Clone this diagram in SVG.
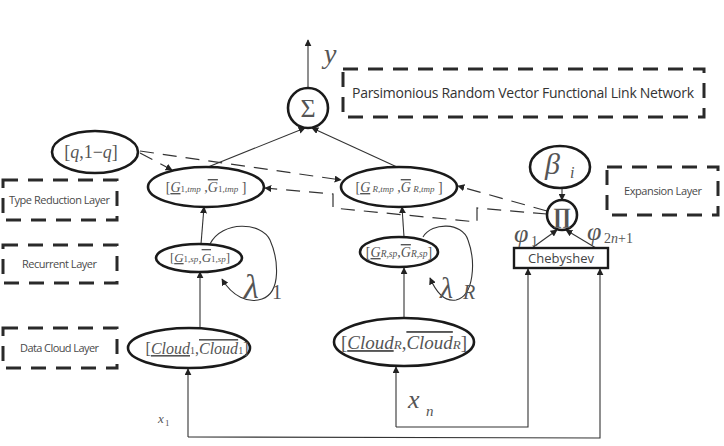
<svg xmlns="http://www.w3.org/2000/svg" width="724" height="446" viewBox="0 0 724 446">
<defs>
<marker id="ah" viewBox="0 0 10 10" refX="9" refY="5" markerWidth="7" markerHeight="7" markerUnits="userSpaceOnUse" orient="auto">
<path d="M0,0 L10,5 L0,10 z" fill="#222"/>
</marker>
</defs>
<style>
.node{fill:#fff;stroke:#1a1a1a;stroke-width:2.6}
.layer{fill:none;stroke:#2a2a2a;stroke-width:3;stroke-dasharray:15 10}
.ltxt{font-family:"Open Sans","Liberation Sans",sans-serif;font-size:11px;fill:#4a4a4a}
.m{font-family:"Liberation Serif",serif;fill:#555}
.it{font-style:italic}
.conn{fill:none;stroke:#333;stroke-width:1.1}
.dash{fill:none;stroke:#333;stroke-width:1.2;stroke-dasharray:14 9}
</style>
<rect width="724" height="446" fill="#fff"/>

<g id="connectors">
<line class="conn" x1="308" y1="88" x2="308" y2="40" marker-end="url(#ah)"/>
<line class="conn" x1="208" y1="167" x2="305" y2="128" marker-end="url(#ah)"/>
<line class="conn" x1="397" y1="167" x2="312" y2="128" marker-end="url(#ah)"/>
<line class="conn" x1="201" y1="244" x2="204" y2="207" marker-end="url(#ah)"/>
<line class="conn" x1="404" y1="237" x2="402" y2="207" marker-end="url(#ah)"/>
<line class="conn" x1="200" y1="328" x2="200" y2="272" marker-end="url(#ah)"/>
<line class="conn" x1="404" y1="318" x2="404" y2="268" marker-end="url(#ah)"/>
<path class="conn" d="M210,244 C222,220 262,222 270,240 C278,258 282,292 262,299 C248,304 232,296 222,279" marker-end="url(#ah)"/>
<path class="conn" d="M423,237 C432,222 462,222 468,240 C476,262 474,296 456,300 C444,302 436,292 430,278" marker-end="url(#ah)"/>
<line class="conn" x1="562" y1="188" x2="562" y2="200" marker-end="url(#ah)"/>
<line class="conn" x1="532" y1="248" x2="557" y2="230" marker-end="url(#ah)"/>
<line class="conn" x1="596" y1="248" x2="566" y2="230" marker-end="url(#ah)"/>
<path class="conn" d="M188,437 L188,369" marker-end="url(#ah)"/>
<path class="conn" d="M188,437 L600,438 L600,269" marker-end="url(#ah)"/>
<path class="conn" d="M396,427 L396,367" marker-end="url(#ah)"/>
<path class="conn" d="M396,427 L528,427 L528,269" marker-end="url(#ah)"/>
<line class="dash" x1="140" y1="153" x2="172" y2="170" marker-end="url(#ah)"/>
<line class="dash" x1="140" y1="151" x2="341" y2="180" marker-end="url(#ah)"/>
<line class="dash" x1="547" y1="211" x2="458" y2="186" marker-end="url(#ah)"/>
<path class="dash" d="M547,214 L477,208 L477,222 L333,208 L333,194 L265,188" marker-end="url(#ah)"/>
</g>

<g id="sum">
<circle class="node" cx="308" cy="108" r="20"/>
<text class="m" x="308" y="117" font-size="26" text-anchor="middle">Σ</text>
</g>
<g id="y-label">
<text class="m it" x="324" y="63" font-size="28" fill="#333">y</text>
</g>

<g id="prvfln">
<rect class="layer" x="343" y="69" width="361" height="48"/>
<text x="352" y="98" font-family="'Open Sans','Liberation Sans',sans-serif" font-size="14" fill="#333" textLength="342">Parsimonious Random Vector Functional Link Network</text>
</g>

<g id="q-node">
<ellipse class="node" cx="95" cy="152" rx="43" ry="21"/>
<text class="m" x="91" y="158" font-size="18" text-anchor="middle">[<tspan class="it">q</tspan>,1−<tspan class="it">q</tspan>]</text>
</g>

<g id="g1tmp">
<ellipse class="node" cx="206" cy="187" rx="58" ry="20"/>
<text class="m" x="206" y="192" font-size="14" text-anchor="middle">[<tspan class="it" text-decoration="underline">G</tspan><tspan font-size="9">1,<tspan class="it">tmp</tspan></tspan> ,<tspan class="it" text-decoration="overline">G</tspan><tspan font-size="9">1,<tspan class="it">tmp</tspan></tspan> ]</text>
</g>

<g id="grtmp">
<ellipse class="node" cx="399" cy="187" rx="58" ry="20"/>
<text class="m" x="399" y="192" font-size="14" text-anchor="middle">[<tspan class="it" text-decoration="underline">G</tspan><tspan font-size="9"> <tspan class="it">R</tspan>,<tspan class="it">tmp</tspan></tspan> ,<tspan class="it" text-decoration="overline">G</tspan><tspan font-size="9"> <tspan class="it">R</tspan>,<tspan class="it">tmp</tspan></tspan> ]</text>
</g>

<g id="g1sp">
<ellipse class="node" cx="199" cy="258" rx="43" ry="14"/>
<text class="m" x="200" y="262" font-size="13" text-anchor="middle">[<tspan class="it" text-decoration="underline">G</tspan><tspan font-size="9">1,<tspan class="it">sp</tspan></tspan>,<tspan class="it" text-decoration="overline">G</tspan><tspan font-size="9">1,<tspan class="it">sp</tspan></tspan>]</text>
</g>
<g id="lambda1">
<text class="m it" x="244" y="298" font-size="34">λ</text>
<text class="m" x="272" y="299" font-size="20">1</text>
</g>

<g id="grsp">
<ellipse class="node" cx="399" cy="252" rx="39" ry="15"/>
<text class="m" x="399" y="257" font-size="14" text-anchor="middle">[<tspan class="it" text-decoration="underline">G</tspan><tspan font-size="9.5" class="it">R,sp</tspan>,<tspan class="it" text-decoration="overline">G</tspan><tspan font-size="9.5" class="it">R,sp</tspan>]</text>
</g>
<g id="lambdaR">
<text class="m it" x="440" y="298" font-size="30">λ</text>
<text class="m it" x="463" y="299" font-size="20">R</text>
</g>

<g id="cloud1">
<ellipse class="node" cx="189" cy="348" rx="61" ry="20"/>
<text class="m" x="197" y="354" font-size="16" text-anchor="middle">[<tspan class="it" text-decoration="underline">Cloud</tspan><tspan font-size="10">1</tspan>,<tspan class="it" text-decoration="overline">Cloud</tspan><tspan font-size="10">1</tspan>]</text>
</g>

<g id="cloudR">
<ellipse class="node" cx="404" cy="342" rx="70" ry="24"/>
<text class="m" x="404" y="349" font-size="19" text-anchor="middle">[<tspan class="it" text-decoration="underline">Cloud</tspan><tspan font-size="13" class="it">R</tspan>,<tspan class="it" text-decoration="overline">Cloud</tspan><tspan font-size="13" class="it">R</tspan>]</text>
</g>

<g id="beta">
<ellipse class="node" cx="560" cy="167" rx="30" ry="21"/>
<text class="m it" x="545" y="174" font-size="30">β</text>
<text class="m it" x="570" y="178" font-size="16">i</text>
</g>

<g id="product">
<circle class="node" cx="562" cy="215" r="15"/>
<text class="m" x="562" y="223" font-size="22" font-weight="bold" fill="#222" text-anchor="middle">∏</text>
</g>

<g id="chebyshev">
<rect x="514" y="248" width="94" height="20" fill="#fff" stroke="#1a1a1a" stroke-width="2.4"/>
<text x="561" y="263" font-family="'Open Sans','Liberation Sans',sans-serif" font-size="13" fill="#444" text-anchor="middle">Chebyshev</text>
<text class="m it" x="514" y="242" font-size="26">φ</text>
<text class="m" x="531" y="246" font-size="14">1</text>
<text class="m it" x="587" y="240" font-size="26">φ</text>
<text class="m" x="604" y="243" font-size="14"><tspan>2</tspan><tspan class="it">n</tspan><tspan>+1</tspan></text>
</g>

<g id="expansion-layer">
<rect class="layer" x="607" y="167" width="111" height="48"/>
<text class="ltxt" x="624" y="195" textLength="78">Expansion Layer</text>
</g>
<g id="type-reduction-layer">
<rect class="layer" x="3" y="180" width="114" height="40"/>
<text class="ltxt" x="9" y="204" textLength="101">Type Reduction Layer</text>
</g>
<g id="recurrent-layer">
<rect class="layer" x="3" y="245" width="114" height="38"/>
<text class="ltxt" x="22" y="268" textLength="75">Recurrent Layer</text>
</g>
<g id="data-cloud-layer">
<rect class="layer" x="3" y="328" width="114" height="40"/>
<text class="ltxt" x="20" y="352" textLength="79">Data Cloud Layer</text>
</g>

<g id="inputs">
<text class="m it" x="408" y="408" font-size="26">x</text>
<text class="m it" x="426" y="416" font-size="15">n</text>
<text class="m it" x="158" y="423" font-size="13">x</text>
<text class="m" x="165" y="426" font-size="9">1</text>
</g>
</svg>
